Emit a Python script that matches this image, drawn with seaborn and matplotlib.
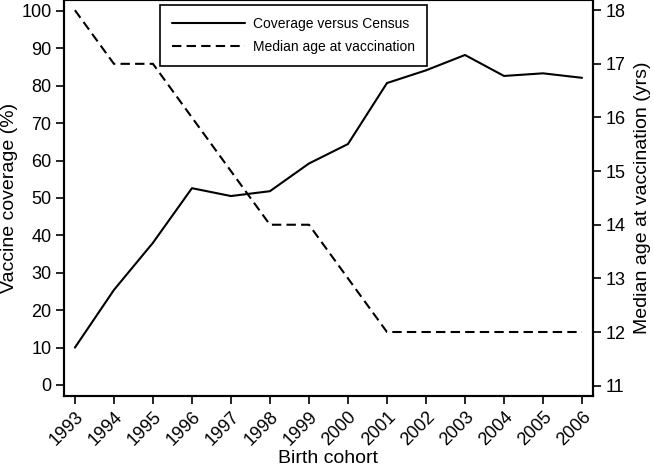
import numpy as np
import pandas as pd
import matplotlib
matplotlib.use("Agg")
import matplotlib.pyplot as plt
import seaborn as sns

# data
years = [1993, 1994, 1995, 1996, 1997, 1998, 1999,
         2000, 2001, 2002, 2003, 2004, 2005, 2006]
coverage = [10.0, 25.4, 38.0, 52.6, 50.5, 51.8, 59.2,
            64.4, 80.7, 84.1, 88.2, 82.6, 83.3, 82.1]
median_age = [18, 17, 17, 16, 15, 14, 14, 13, 12, 12, 12, 12, 12, 12]

df = pd.DataFrame({"year": years, "coverage": coverage, "age": median_age})

sns.set_theme(style="ticks")
plt.rcParams["font.family"] = ["Liberation Sans", "DejaVu Sans"]
plt.rcParams["axes.linewidth"] = 1.5
plt.rcParams["text.color"] = "black"
plt.rcParams["axes.labelcolor"] = "black"
plt.rcParams["xtick.color"] = "black"
plt.rcParams["ytick.color"] = "black"

fig, ax = plt.subplots(figsize=(6.53, 4.69), dpi=100)
fig.subplots_adjust(left=0.098, right=0.908, top=1.0, bottom=0.156)

# coverage on the left axis
sns.lineplot(data=df, x="year", y="coverage", ax=ax, color="black",
             linewidth=1.5, label="Coverage versus Census", legend=False)

# median age on a twin right axis
ax2 = ax.twinx()
sns.lineplot(data=df, x="year", y="age", ax=ax2, color="black",
             linewidth=1.5, legend=False,
             label="Median age at vaccination")
ax2.lines[0].set_dashes((4.5, 2.5))

ax.set_xlim(1992.72, 2006.28)
ax.set_ylim(-2.9, 102.9)
ax2.set_ylim(10.81, 18.19)

ax.set_xticks(years)
ax.set_xticklabels([str(y) for y in years], rotation=45, ha="right",
                   rotation_mode="anchor")
ax.set_yticks(range(0, 101, 10))
ax2.set_yticks(range(11, 19))

for a in (ax, ax2):
    a.tick_params(direction="out", length=6, width=1.2, labelsize=13,
                  pad=3, colors="black")
    for s in a.spines.values():
        s.set_visible(True)
        s.set_color("black")
        s.set_linewidth(1.5)

ax.set_xlabel("Birth cohort", fontsize=14, labelpad=1)
ax.set_ylabel("Vaccine coverage (%)", fontsize=14, labelpad=2)
ax2.set_ylabel("Median age at vaccination (yrs)", fontsize=14, labelpad=6)

h1, l1 = ax.get_legend_handles_labels()
h2, l2 = ax2.get_legend_handles_labels()
leg = ax.legend(h1 + h2, l1 + l2, loc="upper left",
                bbox_to_anchor=(0.181, 0.987), borderaxespad=0,
                fontsize=10, frameon=True, fancybox=False, framealpha=1,
                edgecolor="black", handlelength=5.3, handletextpad=0.6,
                borderpad=0.85, labelspacing=0.65)
leg.get_frame().set_linewidth(1.2)
leg.set_zorder(10)

fig.savefig("out.png", dpi=100)
